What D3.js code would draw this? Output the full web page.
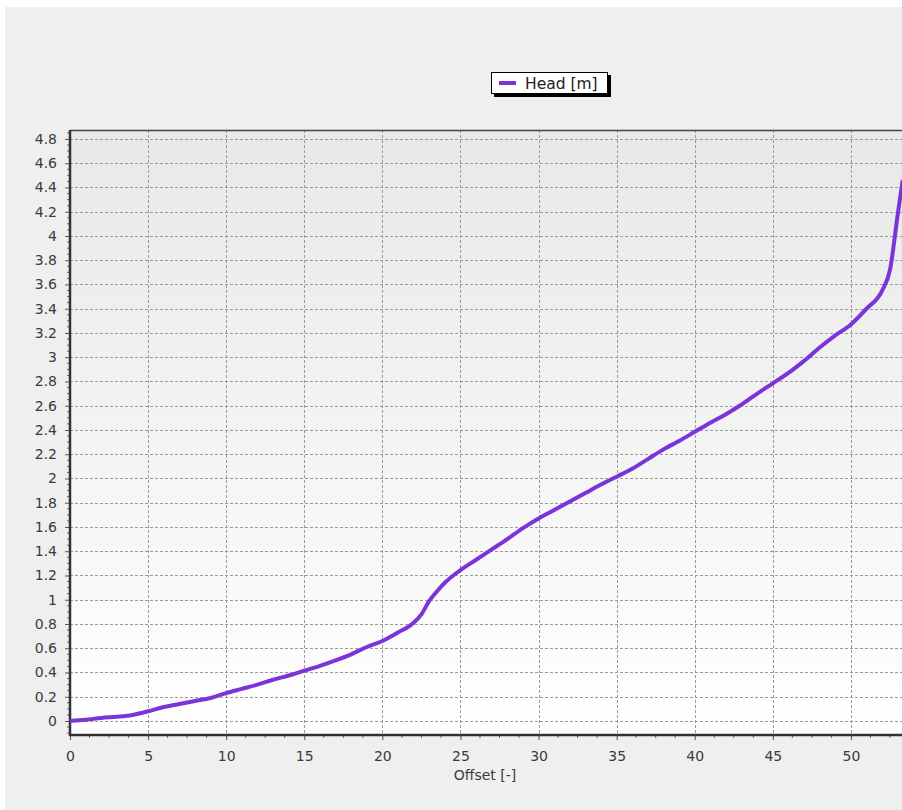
<!DOCTYPE html>
<html>
<head>
<meta charset="utf-8">
<script src="https://cdn.jsdelivr.net/npm/d3@7"></script>
<style>
  html, body { margin: 0; padding: 0; background: #ffffff; }
  svg { display: block; }
  text { font-family: "DejaVu Sans", Verdana, sans-serif; }
</style>
</head>
<body>
<svg id="chart" width="902" height="810"></svg>
<script>
// ---- data ----
const offsets = [0,1,2,3,4,5,6,7,8,9,10,11,12,13,14,15,16,17,18,19,20,21,22,22.5,23,23.5,24,25,26,27,28,29,30,31,32,33,34,35,36,37,38,39,40,41,42,43,44,45,46,47,48,49,50,51,52,52.5,53,53.3];
const head = [0.00,0.01,0.025,0.035,0.05,0.08,0.115,0.14,0.165,0.19,0.23,0.265,0.30,0.34,0.375,0.415,0.455,0.50,0.55,0.61,0.66,0.73,0.81,0.88,0.99,1.07,1.14,1.245,1.33,1.415,1.50,1.59,1.67,1.74,1.81,1.88,1.95,2.015,2.08,2.16,2.24,2.31,2.385,2.46,2.53,2.61,2.70,2.785,2.87,2.97,3.08,3.18,3.27,3.40,3.55,3.72,4.18,4.45];
const xTicks = [0,5,10,15,20,25,30,35,40,45,50];
const xTickLabels = ["0","5","10","15","20","25","30","35","40","45","50"];
const yTicks = [0,0.2,0.4,0.6,0.8,1,1.2,1.4,1.6,1.8,2,2.2,2.4,2.6,2.8,3,3.2,3.4,3.6,3.8,4,4.2,4.4,4.6,4.8];
const yTickLabels = ["0","0.2","0.4","0.6","0.8","1","1.2","1.4","1.6","1.8","2","2.2","2.4","2.6","2.8","3","3.2","3.4","3.6","3.8","4","4.2","4.4","4.6","4.8"];
const seriesName = "Head [m]";
const xTitle = "Offset [-]";

// ---- layout ----
const svg = d3.select("#chart");
const W = 902, H = 810;
const plot = {left: 70, top: 130, right: 902, bottom: 735};

// page background
svg.append("rect").attr("x", 5).attr("y", 7).attr("width", W - 5).attr("height", H - 7).attr("fill", "#efefef");

const x = d3.scaleLinear().domain([0, 53.27]).range([plot.left, plot.right]);
const y = d3.scaleLinear().domain([-0.1155, 4.874]).range([plot.bottom, plot.top]);

const defs = svg.append("defs");
const grad = defs.append("linearGradient").attr("id", "bg").attr("x1", 0).attr("y1", 0).attr("x2", 0).attr("y2", 1);
grad.append("stop").attr("offset", "0%").attr("stop-color", "#e8e8e8");
grad.append("stop").attr("offset", "100%").attr("stop-color", "#ffffff");
defs.append("clipPath").attr("id", "clip").append("rect")
  .attr("x", plot.left).attr("y", plot.top).attr("width", plot.right - plot.left).attr("height", plot.bottom - plot.top);

svg.append("rect").attr("x", plot.left).attr("y", plot.top)
  .attr("width", plot.right - plot.left).attr("height", plot.bottom - plot.top)
  .attr("fill", "url(#bg)");

// gridlines
const grid = svg.append("g").attr("stroke", "#9a9a9a").attr("stroke-width", 1).attr("stroke-dasharray", "3,2");
grid.selectAll(".vg").data(xTicks.filter(d => d > 0)).join("line")
  .attr("x1", d => Math.round(x(d)) + 0.5).attr("x2", d => Math.round(x(d)) + 0.5)
  .attr("y1", plot.top).attr("y2", plot.bottom);
grid.selectAll(".hg").data(yTicks).join("line")
  .attr("y1", d => Math.round(y(d)) + 0.5).attr("y2", d => Math.round(y(d)) + 0.5)
  .attr("x1", plot.left).attr("x2", plot.right);

// axes (major ticks with labels)
const xAxis = d3.axisBottom(x).tickValues(xTicks).tickFormat((d, i) => xTickLabels[i]).tickSize(5).tickSizeOuter(0);
const gx = svg.append("g").attr("transform", `translate(0,${plot.bottom})`).call(xAxis);
gx.select(".domain").remove();
gx.selectAll(".tick line").attr("stroke", "#555");
gx.selectAll(".tick text").attr("font-size", 14).attr("fill", "#3a3a3a").attr("y", 11).attr("dy", "1.05em");

const yAxis = d3.axisLeft(y).tickValues(yTicks).tickFormat((d, i) => yTickLabels[i]).tickSize(5).tickSizeOuter(0);
const gy = svg.append("g").attr("transform", `translate(${plot.left},0)`).call(yAxis);
gy.select(".domain").remove();
gy.selectAll(".tick line").attr("stroke", "#555");
gy.selectAll(".tick text").attr("font-size", 14).attr("fill", "#3a3a3a").attr("x", -13);

// minor ticks
const xMinor = d3.range(0, 53.2, 1.25).filter(v => Math.abs(v / 5 - Math.round(v / 5)) > 1e-6);
svg.append("g").selectAll("line").data(xMinor).join("line")
  .attr("x1", d => x(d)).attr("x2", d => x(d)).attr("y1", plot.bottom).attr("y2", plot.bottom + 3)
  .attr("stroke", "#666");
const yMinor = d3.range(-0.1, 4.87, 0.05).filter(v => Math.abs(v / 0.2 - Math.round(v / 0.2)) > 1e-6);
svg.append("g").selectAll("line").data(yMinor).join("line")
  .attr("y1", d => y(d)).attr("y2", d => y(d)).attr("x1", plot.left - 3).attr("x2", plot.left)
  .attr("stroke", "#666");

// borders
svg.append("line").attr("x1", plot.left).attr("x2", plot.right).attr("y1", plot.top + 0.5).attr("y2", plot.top + 0.5)
  .attr("stroke", "#444").attr("stroke-width", 1.5);
svg.append("line").attr("x1", plot.left).attr("x2", plot.left).attr("y1", plot.top).attr("y2", plot.bottom + 1)
  .attr("stroke", "#333").attr("stroke-width", 2.5);
svg.append("line").attr("x1", plot.left - 1).attr("x2", plot.right).attr("y1", plot.bottom).attr("y2", plot.bottom)
  .attr("stroke", "#333").attr("stroke-width", 2.5);

// series line
const pts = offsets.map((o, i) => [o, head[i]]);
svg.append("path").datum(pts)
  .attr("clip-path", "url(#clip)")
  .attr("fill", "none").attr("stroke", "#7a34d8").attr("stroke-width", 4)
  .attr("stroke-linejoin", "round").attr("stroke-linecap", "round")
  .attr("d", d3.line().x(d => x(d[0])).y(d => y(d[1])).curve(d3.curveMonotoneX));

// axis title
svg.append("text").attr("x", 485).attr("y", 780).attr("text-anchor", "middle")
  .attr("font-size", 14).attr("fill", "#3a3a3a").text(xTitle);

// legend
const lg = svg.append("g");
lg.append("rect").attr("x", 494).attr("y", 75).attr("width", 117).attr("height", 22).attr("fill", "#000");
lg.append("rect").attr("x", 491.5).attr("y", 72.5).attr("width", 116).attr("height", 21).attr("fill", "#fff").attr("stroke", "#000");
lg.append("line").attr("x1", 499).attr("x2", 516).attr("y1", 83).attr("y2", 83).attr("stroke", "#7a34d8").attr("stroke-width", 4);
lg.append("text").attr("x", 525).attr("y", 89).attr("font-size", 15.5).attr("fill", "#222").text(seriesName);
</script>
</body>
</html>
